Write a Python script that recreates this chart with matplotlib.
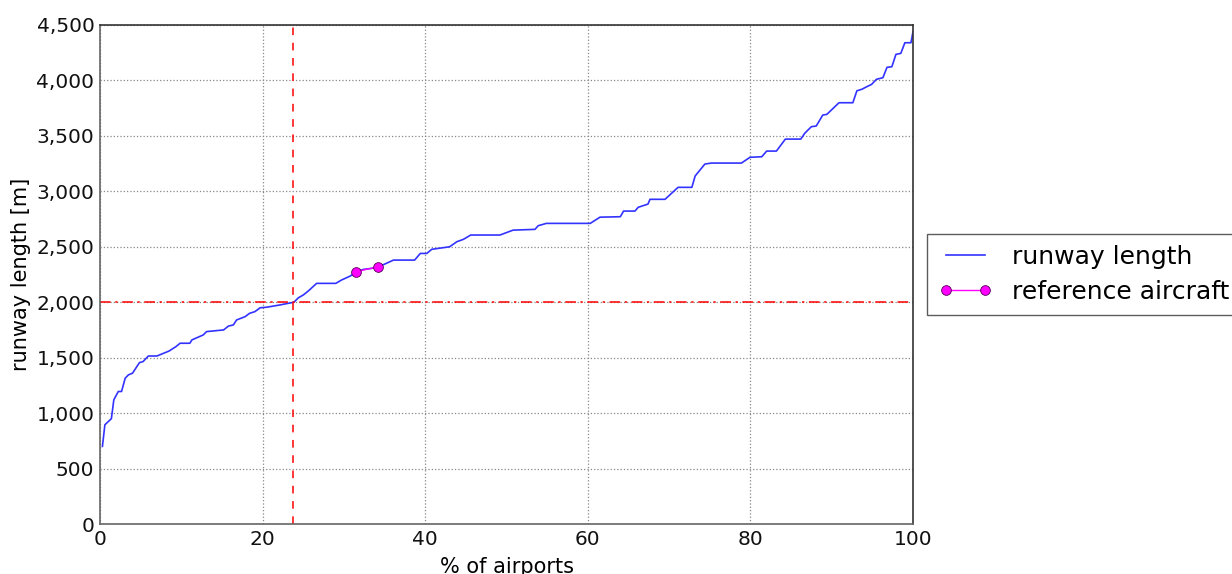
import matplotlib
matplotlib.use("Agg")
import matplotlib.pyplot as plt
from matplotlib.ticker import FuncFormatter

# percentage of airports (x) and runway length in m (y)
pct_airports = [0.3, 0.6, 1.4, 1.7, 2.25, 2.65, 3.1, 3.5, 4.0, 4.85, 5.3, 5.95, 7.0, 7.6,
                8.5, 9.35, 9.85, 11.05, 11.3, 12.7, 13.1, 15.2, 15.8, 16.4, 16.8, 17.85,
                18.4, 19.05, 19.7, 20.5, 22.1, 23.85, 24.4, 25.0, 25.6, 26.65, 29.0, 29.7,
                30.75, 31.6, 32.4, 33.4, 34.3, 36.1, 38.7, 39.4, 40.2, 40.8, 43.0, 43.9,
                44.7, 45.6, 49.2, 50.8, 53.5, 53.9, 54.9, 60.3, 61.5, 64.0, 64.4, 65.8,
                66.2, 67.4, 67.65, 69.5, 70.3, 71.1, 72.8, 73.2, 73.8, 74.4, 75.2, 78.9,
                79.95, 81.4, 82.0, 83.2, 84.3, 86.2, 86.7, 87.5, 88.1, 88.9, 89.4, 90.9,
                92.6, 93.1, 93.7, 94.3, 94.9, 95.5, 96.3, 96.8, 97.4, 97.9, 98.5, 99.0,
                99.75, 100.0]
runway_length = [700, 895, 950, 1120, 1195, 1195, 1315, 1345, 1360, 1455, 1465, 1515, 1515, 1533,
                 1560, 1600, 1630, 1630, 1660, 1705, 1735, 1750, 1785, 1795, 1840, 1870,
                 1900, 1915, 1950, 1955, 1975, 2000, 2040, 2065, 2100, 2170, 2170, 2200,
                 2235, 2275, 2296, 2305, 2320, 2380, 2380, 2440, 2440, 2477, 2500, 2546,
                 2567, 2606, 2606, 2650, 2657, 2690, 2711, 2711, 2767, 2771, 2822, 2822,
                 2856, 2885, 2928, 2928, 2982, 3036, 3036, 3138, 3192, 3246, 3255, 3255,
                 3307, 3312, 3363, 3363, 3471, 3471, 3525, 3583, 3589, 3688, 3694, 3799,
                 3799, 3907, 3920, 3943, 3964, 4010, 4025, 4118, 4124, 4235, 4244, 4340,
                 4340, 4440]

ref_pct = [31.5, 34.2]
ref_length = [2275, 2320]

threshold_pct = 23.8
threshold_length = 2000

fig = plt.figure(figsize=(12.32, 5.74), dpi=100)
ax = fig.add_axes([100/1232, 50/574, 813/1232, 499/574])

ax.plot(pct_airports, runway_length, color='#3333ff', lw=1.2, label='runway length')
ax.plot(ref_pct, ref_length, color='magenta', marker='o', ms=7, mec='#550055', mew=0.6,
        lw=1, linestyle='-', label='reference aircraft', zorder=5)
ax.axvline(threshold_pct, color='red', ls=(0, (5, 5)), lw=1.1)
ax.axhline(threshold_length, color='red', ls=(0, (7, 3, 1.5, 3)), lw=1.1)

ax.set_xlim(0, 100)
ax.set_ylim(0, 4500)
ax.set_xticks([0, 20, 40, 60, 80, 100])
ax.set_yticks(range(0, 4501, 500))
ax.yaxis.set_major_formatter(FuncFormatter(lambda v, p: f"{int(v):,}"))
ax.grid(True, color='#888888', ls=':', lw=0.9)
ax.tick_params(length=0, labelsize=14.5, pad=4, colors='#111111')
for s in ax.spines.values():
    s.set_color('#666666')
    s.set_linewidth(1.2)
ax.spines['top'].set_color('#333333')
ax.spines['right'].set_color('#333333')
ax.set_xlabel('% of airports', fontsize=15, labelpad=6)
ax.set_ylabel('runway length [m]', fontsize=15, labelpad=4)

leg = ax.legend(loc='center left', bbox_to_anchor=(1.0, 0.5), fontsize=18, numpoints=2,
                fancybox=False, borderaxespad=0.56, handlelength=2.16, handletextpad=0.8,
                borderpad=0.45, labelspacing=0.45)
leg.get_frame().set_edgecolor('#333333')
leg.get_frame().set_linewidth(1.0)

fig.savefig('out.png', dpi=100)
